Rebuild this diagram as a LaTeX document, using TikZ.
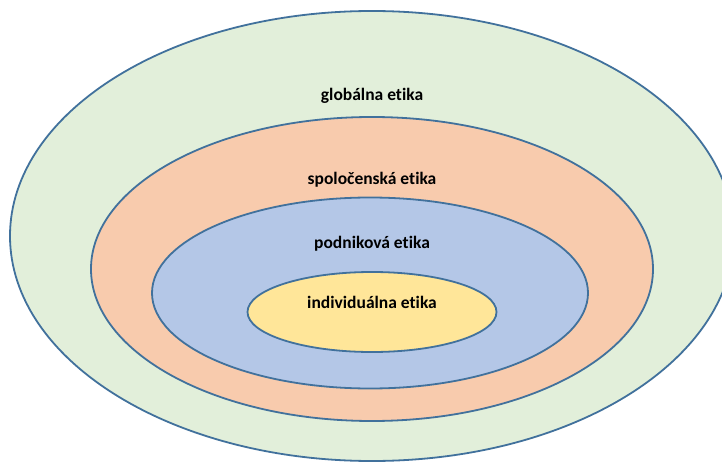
\documentclass[tikz,border=0pt]{standalone}
\usepackage{fontspec}
\setmainfont{Carlito}[Ligatures=NoCommon]
\usetikzlibrary{shapes.geometric, positioning}

\definecolor{ringline}{HTML}{41719C}
\definecolor{globalfill}{HTML}{E2EFDA}
\definecolor{socialfill}{HTML}{F8CBAD}
\definecolor{firmfill}{HTML}{B4C7E7}
\definecolor{personfill}{HTML}{FFE699}

\begin{document}
\begin{tikzpicture}[
    x=1pt, y=-1pt,
    ring/.style={ellipse, draw=ringline, line width=1.8pt, inner sep=0pt},
    ringtext/.style={font=\bfseries\fontsize{17.5}{20}\selectfont, text=black}
]
\useasboundingbox (0,0) rectangle (722,462);
\clip (0,0) rectangle (722,462);
\node (global) [ring, fill=globalfill, minimum width=724pt, minimum height=450pt] at (372,236) {};
\node (social) [ring, fill=socialfill, minimum width=562pt, minimum height=304pt] at (372,269) {};
\node (firm) [ring, fill=firmfill, minimum width=436pt, minimum height=191pt] at (370,293) {};
\node (person) [ring, fill=personfill, minimum width=249pt, minimum height=80pt] at (372,312) {};

\node (globaltext) [ringtext] at (372,96) {globálna etika};
\node (socialtext) [ringtext] at (372,180) {spoločenská etika};
\node (firmtext) [ringtext] at (372,244) {podniková etika};
\node (persontext) [ringtext] at (372,302) {individuálna etika};
\end{tikzpicture}
\end{document}
